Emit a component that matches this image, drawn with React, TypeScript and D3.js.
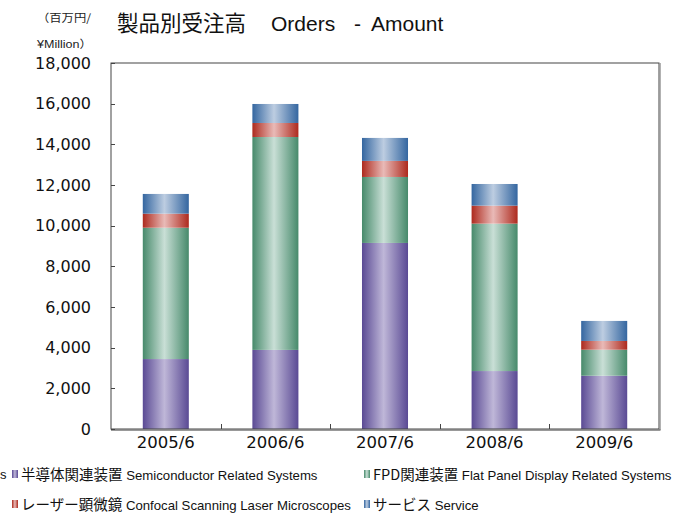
import React from "react";
import * as d3 from "d3";

const categories = ["2005/6", "2006/6", "2007/6", "2008/6", "2009/6"];
const semiconductor = [3440, 3890, 9150, 2850, 2620];
const fpd = [6460, 10470, 3245, 7250, 1280];
const laser = [690, 690, 790, 885, 430];
const service = [970, 935, 1130, 1065, 985];
const yTicks = [0, 2000, 4000, 6000, 8000, 10000, 12000, 14000, 16000, 18000];

const seriesNames = [
  { key: "semi", ja: "半導体関連装置", en: "Semiconductor Related Systems" },
  { key: "fpd", ja: "FPD関連装置", en: "Flat Panel Display Related Systems" },
  { key: "laser", ja: "レーザー顕微鏡", en: "Confocal Scanning Laser Microscopes" },
  { key: "service", ja: "サービス", en: "Service" },
];
const gradColors: Record<string, [string, string]> = {
  semi: ["#5a4a94", "#bfb7d8"],
  fpd: ["#478a6b", "#c9dfd6"],
  laser: ["#ad2a1e", "#e9bab7"],
  service: ["#3466a0", "#bdcde1"],
};

const W = 690, H = 516;
const m = { left: 111, top: 63, right: 659, bottom: 429 };

export default function App() {
  const rows = categories.map((c, i) => ({
    cat: c,
    semi: semiconductor[i],
    fpd: fpd[i],
    laser: laser[i],
    service: service[i],
  }));
  const stack = d3.stack<any>().keys(["semi", "fpd", "laser", "service"])(rows);
  const x = d3.scaleBand().domain(categories).range([m.left, m.right]).paddingInner(0).paddingOuter(0);
  const y = d3.scaleLinear().domain([0, 18000]).range([m.bottom, m.top]);
  const bw = x.bandwidth() * 0.42;
  const fmt = d3.format(",");
  const font = "'DejaVu Sans', sans-serif";
  const lfont = "'Liberation Sans', Arial, 'Noto Sans CJK JP', sans-serif";
  const cfont = "'Noto Sans CJK JP', sans-serif";

  return (
    <svg width={W} height={H} style={{ position: "absolute", left: 0, top: 0, background: "#fff" }}>
      <defs>
        {Object.entries(gradColors).map(([k, [d, l]]) => (
          <linearGradient key={k} id={`g-${k}`} x1="0" x2="1" y1="0" y2="0">
            <stop offset="0" stopColor={d} />
            <stop offset="0.47" stopColor={l} />
            <stop offset="1" stopColor={d} />
          </linearGradient>
        ))}
      </defs>
      <rect width={W} height={H} fill="#fff" />
      {/* title */}
      <text y={31} fontSize={21} fill="#111">
        <tspan x={117} fontFamily={cfont} fontSize={21.5}>製品別受注高</tspan>
        <tspan x={271} fontFamily={lfont}>Orders</tspan>
        <tspan x={354} fontFamily={lfont}>-</tspan>
        <tspan x={371} fontFamily={lfont}>Amount</tspan>
      </text>
      <text x={37} y={22} fontFamily={cfont} fontSize={11} fill="#222" textLength={54} lengthAdjust="spacingAndGlyphs">（百万円/</text>
      <text x={37} y={48} fontFamily={lfont} fontSize={11} fill="#222" textLength={55} lengthAdjust="spacingAndGlyphs">¥Million）</text>

      {/* bars */}
      {stack.map((s) => (
        <g key={s.key}>
          {s.map((d, i) => (
            <rect
              key={i}
              x={(x(categories[i]) as number) + (x.bandwidth() - bw) / 2}
              y={y(d[1])}
              width={bw}
              height={y(d[0]) - y(d[1])}
              fill={`url(#g-${s.key})`}
            />
          ))}
        </g>
      ))}

      {/* frame */}
      <rect x={m.left} y={m.top} width={m.right - m.left} height={m.bottom - m.top} fill="none" stroke="#444" strokeWidth={1} />
      <line x1={m.right + 1} x2={m.right + 1} y1={m.top} y2={m.bottom + 1} stroke="#999" strokeWidth={1.5} />
      <line x1={m.left} x2={m.right + 1.5} y1={m.bottom + 1} y2={m.bottom + 1} stroke="#777" strokeWidth={1.5} />

      {/* y ticks */}
      {yTicks.map((t) => (
        <g key={t}>
          <line x1={m.left} x2={m.left + 4} y1={Math.round(y(t)) + 0.5} y2={Math.round(y(t)) + 0.5} stroke="#444" />
          <text x={91} y={y(t)} dy="0.36em" textAnchor="end" fontFamily={font} fontSize={16} fill="#111">
            {fmt(t)}
          </text>
        </g>
      ))}
      {/* x ticks */}
      {categories.slice(1).map((c) => (
        <line key={c} x1={Math.round(x(c) as number) + 0.5} x2={Math.round(x(c) as number) + 0.5} y1={m.bottom} y2={m.bottom - 5} stroke="#444" />
      ))}
      {categories.map((c) => (
        <text key={c} x={(x(c) as number) + x.bandwidth() / 2} y={448} textAnchor="middle" fontFamily={font} fontSize={16.5} fill="#111">
          {c}
        </text>
      ))}

      {/* legend */}
      <text x={0} y={479} fontFamily={lfont} fontSize={13} fill="#111">s</text>
      {seriesNames.map((s, i) => {
        const lx = i % 2 === 0 ? 12 : 364;
        const ly = i < 2 ? 474 : 504;
        return (
          <g key={s.key}>
            <rect x={lx} y={ly - 4} width={6} height={8} fill={`url(#g-${s.key})`} />
            <text x={lx + 9} y={ly} dy="0.36em" fill="#111">
              <tspan fontFamily={cfont} fontSize={14.5}>{s.ja}</tspan>
              <tspan fontFamily={lfont} fontSize={13.2}>{" " + s.en}</tspan>
            </text>
          </g>
        );
      })}
    </svg>
  );
}
